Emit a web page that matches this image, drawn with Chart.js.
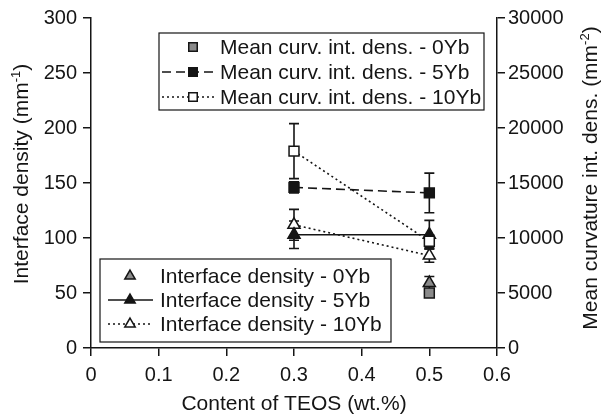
<!DOCTYPE html>
<html>
<head>
<meta charset="utf-8">
<script src="https://cdn.jsdelivr.net/npm/chart.js@4.4.1/dist/chart.umd.min.js"></script>
<style>
  html, body { margin: 0; padding: 0; background: #fff; }
</style>
</head>
<body>
<canvas id="diagram" width="601" height="418"></canvas>
<script>
// TEOS content (wt.%)
var teos = [0.3, 0.5];
var xTicks = [0, 0.1, 0.2, 0.3, 0.4, 0.5, 0.6];

// Interface density (mm^-1), left axis
var intDens0Yb = [null, 59];
var intDens0YbErr = [0, 6];
var intDens5Yb = [103, 103];
var intDens5YbErr = [12.5, 13];
var intDens10Yb = [112, 84];
var intDens10YbErr = [14, 6];

// Mean curvature int. dens. (mm^-2), right axis
var curv0Yb = [null, 5000];
var curv0YbErr = [0, 300];
var curv5Yb = [14600, 14100];
var curv5YbErr = [500, 1800];
var curv10Yb = [17900, 9700];
var curv10YbErr = [2500, 600];

var FONT = '"Liberation Sans", Arial, Helvetica, sans-serif';
var INK = '#151515';
var GREY = '#8a8a8a';

function pts(arr) {
  return teos.map(function (x, i) { return { x: x, y: arr[i] }; });
}

function series(label, arr, err, axis, style, fill, dash, showLine) {
  return {
    label: label,
    data: pts(arr),
    errors: err,
    yAxisID: axis,
    showLine: showLine,
    borderColor: INK,
    borderWidth: 1.6,
    borderDash: dash,
    pointStyle: style,
    pointRadius: 7,
    pointHoverRadius: 7,
    pointBackgroundColor: fill,
    pointBorderColor: INK,
    pointBorderWidth: 1.5,
    fill: false
  };
}

var datasets = [
  series('Mean curv. int. dens. - 0Yb', curv0Yb, curv0YbErr, 'y2', 'rect', GREY, [], false),
  series('Mean curv. int. dens. - 5Yb', curv5Yb, curv5YbErr, 'y2', 'rect', INK, [9, 5], true),
  series('Mean curv. int. dens. - 10Yb', curv10Yb, curv10YbErr, 'y2', 'rect', '#fff', [2, 3], true),
  series('Interface density - 0Yb', intDens0Yb, intDens0YbErr, 'y', 'triangle', GREY, [], false),
  series('Interface density - 5Yb', intDens5Yb, intDens5YbErr, 'y', 'triangle', INK, [], true),
  series('Interface density - 10Yb', intDens10Yb, intDens10YbErr, 'y', 'triangle', '#fff', [2, 3], true)
];

// error bars under the markers
var errorBars = {
  id: 'errorBars',
  beforeDatasetsDraw: function (chart) {
    var ctx = chart.ctx;
    var xs = chart.scales.x;
    ctx.save();
    ctx.strokeStyle = INK;
    ctx.lineWidth = 1.6;
    chart.data.datasets.forEach(function (ds) {
      var ys = chart.scales[ds.yAxisID];
      ds.data.forEach(function (p, j) {
        var e = ds.errors[j];
        if (p.y == null || !e) return;
        var x = xs.getPixelForValue(p.x);
        var t = ys.getPixelForValue(p.y + e);
        var b = ys.getPixelForValue(p.y - e);
        ctx.beginPath();
        ctx.moveTo(x, t); ctx.lineTo(x, b);
        ctx.moveTo(x - 5, t); ctx.lineTo(x + 5, t);
        ctx.moveTo(x - 5, b); ctx.lineTo(x + 5, b);
        ctx.stroke();
      });
    });
    ctx.restore();
  }
};

function sampleItem(ctx, ds, y, lineFrom, lineTo, markX, textX) {
  ctx.save();
  if (ds.showLine) {
    ctx.strokeStyle = INK;
    ctx.lineWidth = ds.borderWidth;
    ctx.setLineDash(ds.borderDash);
    ctx.beginPath();
    ctx.moveTo(lineFrom, y);
    ctx.lineTo(lineTo, y);
    ctx.stroke();
  }
  ctx.setLineDash([]);
  ctx.fillStyle = ds.pointBackgroundColor;
  ctx.strokeStyle = INK;
  ctx.lineWidth = 1.5;
  Chart.helpers.drawPoint(ctx, { pointStyle: ds.pointStyle, radius: 6, rotation: 0, borderWidth: 1.5 }, markX, y);
  ctx.fillStyle = INK;
  ctx.font = '21px ' + FONT;
  ctx.textAlign = 'left';
  ctx.textBaseline = 'middle';
  ctx.fillText(ds.label, textX, y + 1);
  ctx.restore();
}

// two framed legends: curvature series (top) and interface series (bottom)
var boxLegends = {
  id: 'boxLegends',
  afterDraw: function (chart) {
    var ctx = chart.ctx;
    var d = chart.data.datasets;
    ctx.save();
    ctx.strokeStyle = INK;
    ctx.lineWidth = 1.2;
    ctx.fillStyle = '#fff';
    ctx.fillRect(159, 33, 325, 77);
    ctx.strokeRect(159, 33, 325, 77);
    ctx.fillRect(100, 259, 291, 83);
    ctx.strokeRect(100, 259, 291, 83);
    ctx.restore();
    sampleItem(ctx, d[0], 47, 170, 216, 193, 220);
    sampleItem(ctx, d[1], 72, 162, 216, 193, 220);
    sampleItem(ctx, d[2], 97, 162, 216, 193, 220);
    sampleItem(ctx, d[3], 276, 108, 153, 130, 160);
    sampleItem(ctx, d[4], 300, 108, 153, 130, 160);
    sampleItem(ctx, d[5], 324, 108, 153, 130, 160);
  }
};

function vTitle(ctx, x, y, main, sup, tail, rot) {
  ctx.save();
  ctx.translate(x, y);
  ctx.rotate(rot);
  ctx.fillStyle = INK;
  ctx.textBaseline = 'middle';
  ctx.textAlign = 'left';
  var big = '21px ' + FONT, small = '13px ' + FONT;
  ctx.font = big;
  var w1 = ctx.measureText(main).width, w3 = ctx.measureText(tail).width;
  ctx.font = small;
  var w2 = ctx.measureText(sup).width;
  var x0 = -(w1 + w2 + w3) / 2;
  ctx.font = big;
  ctx.fillText(main, x0, 0);
  ctx.font = small;
  ctx.fillText(sup, x0 + w1, -6);
  ctx.font = big;
  ctx.fillText(tail, x0 + w1 + w2, 0);
  ctx.restore();
}

var axisTitles = {
  id: 'axisTitles',
  afterDraw: function (chart) {
    var ctx = chart.ctx;
    vTitle(ctx, 22, 174, 'Interface density (mm', '-1', ')', -Math.PI / 2);
    vTitle(ctx, 591, 178, 'Mean curvature int. dens. (mm', '-2', ')', -Math.PI / 2);
  }
};

function axisGrid() {
  return { drawOnChartArea: false, drawTicks: true, tickLength: 8, color: INK, lineWidth: 1.5 };
}

new Chart(document.getElementById('diagram').getContext('2d'), {
  type: 'scatter',
  data: { datasets: datasets },
  options: {
    responsive: false,
    animation: false,
    devicePixelRatio: 1,
    layout: { padding: { top: 14, left: 0, right: 0, bottom: 0 } },
    plugins: { legend: { display: false }, tooltip: { enabled: false } },
    scales: {
      x: {
        type: 'linear', position: 'bottom', min: 0, max: 0.6,
        afterBuildTicks: function (s) { s.ticks = xTicks.map(function (v) { return { value: v }; }); },
        afterFit: function (s) { s.height = 70; },
        grid: axisGrid(),
        border: { color: INK, width: 1.5 },
        ticks: {
          color: INK, padding: 7, maxRotation: 0, autoSkip: false,
          font: { family: FONT, size: 20 },
          callback: function (v) { return v === 0 ? '0' : v.toFixed(1); }
        },
        title: {
          display: true, text: 'Content of TEOS (wt.%)', color: INK,
          font: { family: FONT, size: 21 }, padding: { top: 0, bottom: 1 }
        }
      },
      y: {
        type: 'linear', position: 'left', min: 0, max: 300,
        afterFit: function (s) { s.width = 91; },
        grid: axisGrid(),
        border: { color: INK, width: 1.5 },
        ticks: {
          stepSize: 50, color: INK, padding: 6, font: { family: FONT, size: 20 },
          callback: function (v) { return String(v); }
        }
      },
      y2: {
        type: 'linear', position: 'right', min: 0, max: 30000,
        afterFit: function (s) { s.width = 104; },
        grid: axisGrid(),
        border: { color: INK, width: 1.5 },
        ticks: {
          stepSize: 5000, color: INK, padding: 3, font: { family: FONT, size: 20 },
          callback: function (v) { return String(v); }
        }
      }
    }
  },
  plugins: [errorBars, boxLegends, axisTitles]
});
</script>
</body>
</html>
